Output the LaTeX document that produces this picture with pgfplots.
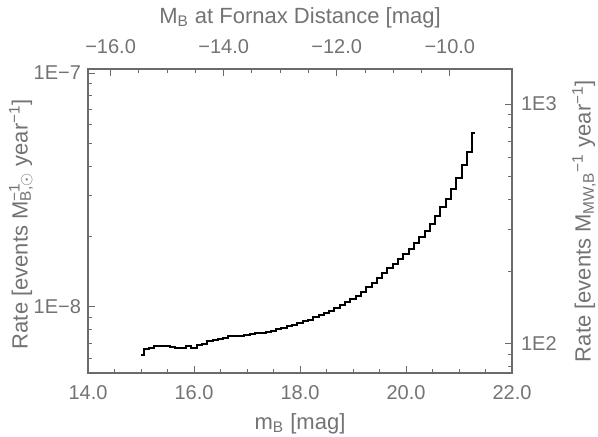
\documentclass[border=0pt]{standalone}
\usepackage{pgfplots}
\pgfplotsset{compat=1.18}
\usepackage{fontspec}
\setmainfont{Liberation Sans}
\definecolor{axgray}{gray}{0.42}
\definecolor{txtgray}{gray}{0.45}

\pgfplotsset{
  idlframe/.style={
    at={(0,0)}, anchor=south west,
    scale only axis, width=212pt, height=152pt,
    tick align=inside,
    axis line style={axgray, line width=0.6pt},
    tick style={axgray, line width=0.5pt},
    major tick length=3.5pt, minor tick length=2pt,
    every tick label/.append style={text=txtgray, font=\fontsize{10}{12}\selectfont},
    label style={text=txtgray, font=\fontsize{11}{13}\selectfont},
  }
}

\begin{document}
\begin{tikzpicture}
\useasboundingbox (-44pt,-32pt) rectangle (255pt,186.5pt);

% bottom / left axis: the data
\begin{axis}[
  ymode=log,
  idlframe,
  xmin=14, xmax=22,
  ymin=5.22e-9, ymax=1.04e-7,
  xtick pos=left, ytick pos=left,
  xtick={14,16,18,20,22},
  xticklabels={14.0,16.0,18.0,20.0,22.0},
  xticklabel style={yshift=-2.5pt},
  minor x tick num=3,
  ytick={1e-8,1e-7},
  yticklabels={1E−8,1E−7},
  minor ytick={6e-9,7e-9,8e-9,9e-9,2e-8,3e-8,4e-8,5e-8,6e-8,7e-8,8e-8,9e-8},
  xlabel={m\textsubscript{B} [mag]},
  ylabel={Rate [events M\rlap{\textsuperscript{−1}}\textsubscript{B,$\odot$} year\textsuperscript{−1}]},
  xlabel style={at={(axis description cs:0.5,-0.166)}, anchor=center},
  ylabel style={at={(axis description cs:-0.158,0.49)}, anchor=center},
]
\addplot[const plot mark mid, black, line width=1pt] coordinates {
(15.0,6.23e-9) (15.1,6.62e-9) (15.2,6.70e-9) (15.3,6.78e-9) (15.4,6.84e-9)
(15.5,6.84e-9) (15.6,6.75e-9) (15.7,6.66e-9) (15.8,6.70e-9) (15.9,6.84e-9)
(16.0,6.66e-9) (16.1,6.88e-9) (16.2,6.95e-9) (16.3,7.18e-9) (16.4,7.25e-9)
(16.5,7.30e-9) (16.6,7.35e-9) (16.7,7.52e-9) (16.8,7.52e-9) (16.9,7.55e-9)
(17.0,7.60e-9) (17.1,7.66e-9) (17.2,7.71e-9) (17.3,7.76e-9) (17.4,7.83e-9)
(17.5,7.93e-9) (17.6,8.04e-9) (17.7,8.15e-9) (17.8,8.26e-9) (17.9,8.38e-9)
(18.0,8.51e-9) (18.1,8.67e-9) (18.2,8.83e-9) (18.3,9.02e-9) (18.4,9.20e-9)
(18.5,9.40e-9) (18.6,9.62e-9) (18.7,9.89e-9) (18.8,1.016e-8) (18.9,1.047e-8)
(19.0,1.081e-8) (19.1,1.119e-8) (19.2,1.161e-8) (19.3,1.216e-8) (19.4,1.271e-8)
(19.5,1.331e-8) (19.6,1.396e-8) (19.7,1.462e-8) (19.8,1.531e-8) (19.9,1.607e-8)
(20.0,1.687e-8) (20.1,1.774e-8) (20.2,1.871e-8) (20.3,1.986e-8) (20.4,2.114e-8)
(20.5,2.265e-8) (20.6,2.449e-8) (20.7,2.667e-8) (20.8,2.897e-8) (20.9,3.184e-8)
(21.0,3.573e-8) (21.1,4.046e-8) (21.2,4.613e-8) (21.3,5.559e-8)
};
\end{axis}

% top / right axis: absolute magnitude and per-galaxy rate
\begin{axis}[
  ymode=log,
  idlframe,
  xmin=-16.4, xmax=-8.9,
  ymin=75.5, ymax=1400,
  xtick pos=right, xticklabel pos=right,
  ytick pos=right, yticklabel pos=right,
  xtick={-16,-14,-12,-10},
  xticklabels={−16.0,−14.0,−12.0,−10.0},
  xticklabel style={yshift=4pt},
  minor x tick num=3,
  ytick={100,1000},
  yticklabels={1E2,1E3},
  yticklabel style={xshift=1pt},
  minor ytick={80,90,200,300,400,500,600,700,800,900},
  xlabel={M\textsubscript{B} at Fornax Distance [mag]},
  ylabel={Rate [events M\textsubscript{MW,B}\textsuperscript{−1} year\textsuperscript{−1}]},
  xlabel style={at={(axis description cs:0.5,1.168)}, anchor=center},
  ylabel style={at={(axis description cs:1.17,0.5)}, anchor=center},
]
\end{axis}
\end{tikzpicture}
\end{document}
